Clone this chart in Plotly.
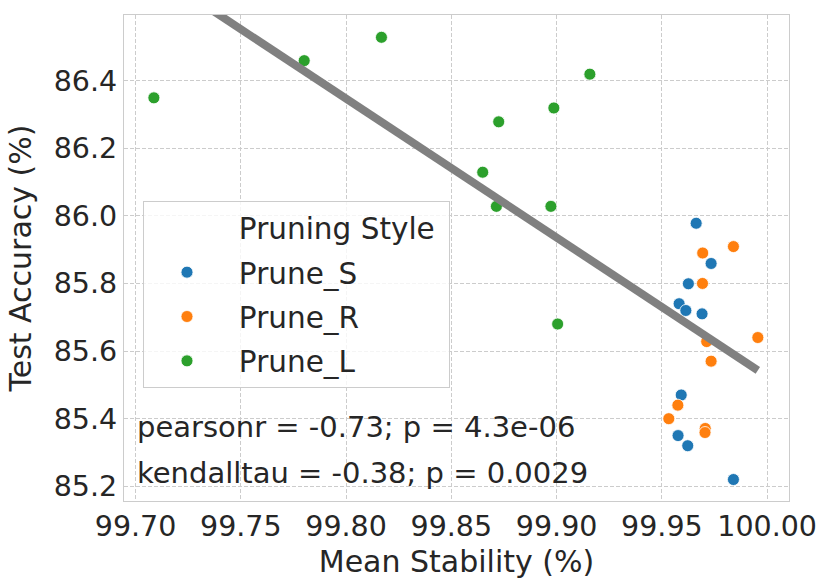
import numpy as np
import plotly.graph_objects as go

# Mean stability (%) and test accuracy (%) for each pruning style
prune_s_x = [99.9663, 99.9734, 99.9626, 99.9582, 99.9614, 99.9691, 99.9592, 99.9577, 99.9623, 99.9840]
prune_s_y = [85.978, 85.859, 85.799, 85.740, 85.720, 85.710, 85.470, 85.350, 85.320, 85.220]

prune_r_x = [99.9840, 99.9694, 99.9693, 99.9956, 99.9713, 99.9734, 99.9576, 99.9533, 99.9706, 99.9705]
prune_r_y = [85.909, 85.890, 85.800, 85.640, 85.628, 85.570, 85.440, 85.400, 85.371, 85.359]

prune_l_x = [99.7087, 99.7801, 99.8168, 99.9158, 99.8987, 99.8725, 99.8649, 99.8714, 99.8973, 99.9005]
prune_l_y = [86.349, 86.459, 86.528, 86.419, 86.319, 86.278, 86.129, 86.028, 86.028, 85.680]

styles = ["Prune_S", "Prune_R", "Prune_L"]
colors = ["#1f77b4", "#ff7f0e", "#2ca02c"]

x_ticks = [99.70, 99.75, 99.80, 99.85, 99.90, 99.95, 100.00]
x_tick_labels = ["99.70", "99.75", "99.80", "99.85", "99.90", "99.95", "100.00"]
y_ticks = [85.2, 85.4, 85.6, 85.8, 86.0, 86.2, 86.4]

stats_lines = ["pearsonr = -0.73; p = 4.3e-06", "kendalltau = -0.38; p = 0.0029"]

TEXT = "#262626"
FONT = "DejaVu Sans"
PAD = "\u00a0"  # nudges legend text right, away from the markers

fig = go.Figure()

# legend title drawn as an entry without a marker, like seaborn does
fig.add_trace(
    go.Scatter(
        x=[None], y=[None], mode="markers",
        marker=dict(size=10, color="rgba(0,0,0,0)"),
        name=PAD + "Pruning Style" + PAD, legendgroup="title",
    )
)

for name, color, xs, ys in zip(
    styles, colors, [prune_s_x, prune_r_x, prune_l_x], [prune_s_y, prune_r_y, prune_l_y]
):
    fig.add_trace(
        go.Scatter(
            x=xs, y=ys, mode="markers", name=PAD + name, legendgroup=name,
            marker=dict(color=color, size=12, line=dict(color="white", width=0.8)),
        )
    )

# regression line over all points
all_x = np.array(prune_s_x + prune_r_x + prune_l_x)
all_y = np.array(prune_s_y + prune_r_y + prune_l_y)
slope, intercept = np.polyfit(all_x, all_y, 1)
fit_x = np.linspace(all_x.min(), all_x.max(), 50)
fig.add_trace(
    go.Scatter(
        x=fit_x, y=slope * fit_x + intercept, mode="lines",
        line=dict(color="#808080", width=8), showlegend=False, hoverinfo="skip",
    )
)

for i, txt in enumerate(stats_lines):
    fig.add_annotation(
        text=txt, xref="paper", yref="paper", x=0.017, y=0.152 - i * 0.095,
        xanchor="left", yanchor="middle", showarrow=False,
        font=dict(family=FONT, size=29, color=TEXT),
    )

axis_common = dict(
    showgrid=True, gridcolor="#cccccc", gridwidth=1, griddash="4px,2px",
    showline=True, linecolor="#cccccc", linewidth=1.2, mirror=True,
    zeroline=False, ticks="", automargin=False,
    tickfont=dict(family=FONT, size=28.5, color=TEXT),
)

fig.update_xaxes(
    **axis_common, range=[99.6945, 100.0104],
    tickvals=x_ticks, ticktext=x_tick_labels,
    title=dict(text="Mean Stability (%)", font=dict(family=FONT, size=30, color=TEXT), standoff=8),
)
fig.update_yaxes(
    **axis_common, range=[85.1565, 86.594],
    tickvals=y_ticks, tickformat=".1f",
    title=dict(text="Test Accuracy (%)", font=dict(family=FONT, size=30, color=TEXT), standoff=13),
)

fig.update_layout(
    width=830, height=587,
    margin=dict(l=124, r=41, t=15, b=86),
    paper_bgcolor="white", plot_bgcolor="white",
    font=dict(family=FONT, color=TEXT),
    legend=dict(
        x=0.0293, y=0.617, xanchor="left", yanchor="top",
        bgcolor="rgba(255,255,255,0.8)", bordercolor="#cccccc", borderwidth=1,
        font=dict(family=FONT, size=29.5, color=TEXT),
        itemwidth=75, tracegroupgap=3,
    ),
)

# drop the page's default body margin so the figure sits at the window's corner
fig.write_html(
    "out.html",
    config={"displayModeBar": False},
    post_script="document.body.style.margin='0';",
)
